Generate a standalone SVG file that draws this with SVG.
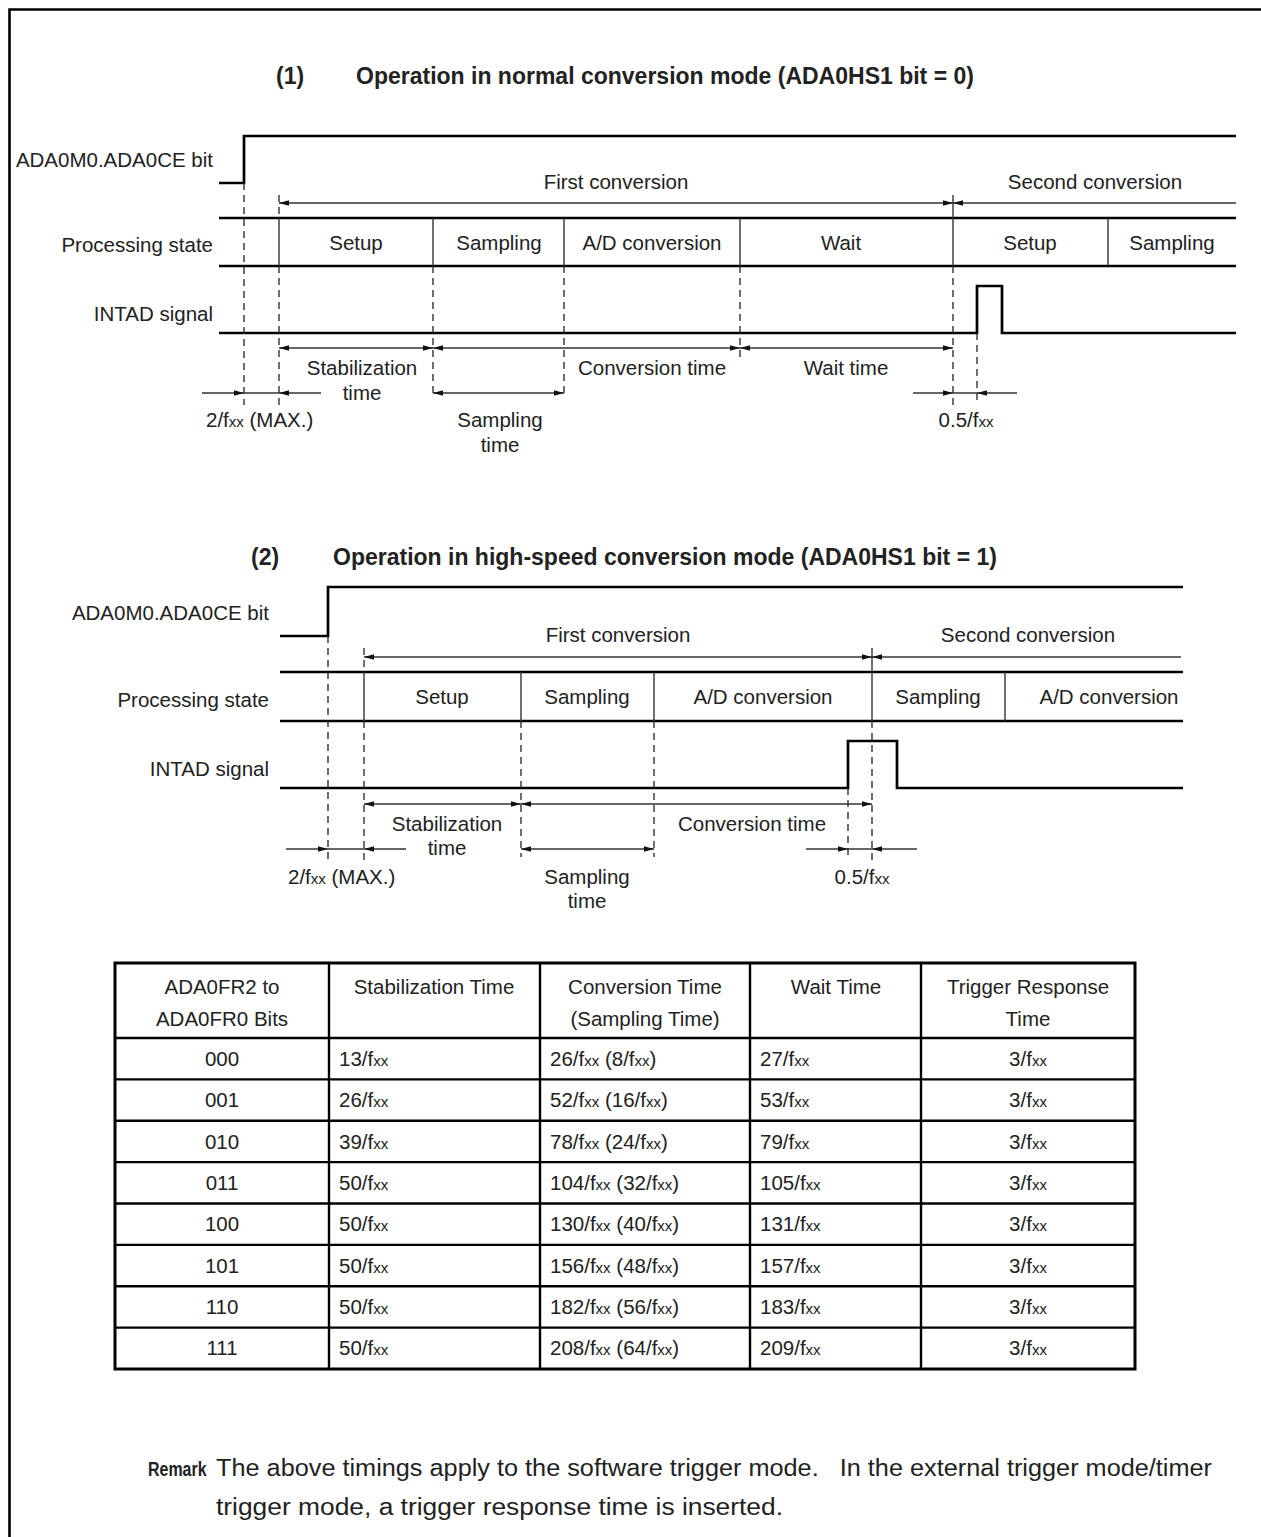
<svg xmlns="http://www.w3.org/2000/svg" xmlns:xlink="http://www.w3.org/1999/xlink" width="1261" height="1537" viewBox="0 0 1261 1537">
<style>
text{font-family:"Liberation Sans",Arial,sans-serif;font-size:20.5px;fill:#222}
.b{font-weight:bold}
.t{font-size:23px}
.m{text-anchor:middle}
.e{text-anchor:end}
.s{font-size:15px}
.r{font-size:23.5px}
.sig{fill:none;stroke:#000;stroke-width:2.7}
.box{stroke:#000;stroke-width:2.7}
.div{stroke:#333;stroke-width:1.4}
.dash{stroke:#222;stroke-width:1.3;stroke-dasharray:7 5}
.arr{stroke:#333;stroke-width:1.3}
.tb{fill:none;stroke:#000;stroke-width:3}
.tl{stroke:#000;stroke-width:2.4}
</style>
<defs>
<path id="ahR" d="M0,0 L-10,-2.7 L-10,2.7 Z" fill="#111"/>
<path id="ahL" d="M0,0 L10,-2.7 L10,2.7 Z" fill="#111"/>
</defs>
<rect x="0" y="0" width="1261" height="1537" fill="#fff"/>
<path d="M9.5,1537 V9.5 H1261" fill="none" stroke="#000" stroke-width="2.6"/>

<g id="title1"><text class="b t" x="276" y="84">(1)</text><text class="b t" x="356" y="84">Operation in normal conversion mode (ADA0HS1 bit = 0)</text></g>

<g id="s1-ce"><polyline class="sig" points="219,183 244,183 244,136 1236,136"/><text class="e" x="213" y="167">ADA0M0.ADA0CE bit</text></g>
<g id="s1-state">
<line class="box" x1="219" y1="218" x2="1236" y2="218"/><line class="box" x1="219" y1="266" x2="1236" y2="266"/>
<line class="div" x1="279" y1="218" x2="279" y2="266"/><line class="div" x1="433" y1="218" x2="433" y2="266"/><line class="div" x1="564" y1="218" x2="564" y2="266"/><line class="div" x1="740" y1="218" x2="740" y2="266"/><line class="div" x1="953" y1="218" x2="953" y2="266"/><line class="div" x1="1108" y1="218" x2="1108" y2="266"/>
<text class="e" x="213" y="252">Processing state</text>
<text class="m" x="356" y="250">Setup</text><text class="m" x="499" y="250">Sampling</text><text class="m" x="652" y="250">A/D conversion</text><text class="m" x="841" y="250">Wait</text><text class="m" x="1030" y="250">Setup</text><text class="m" x="1172" y="250">Sampling</text>
</g>
<g id="s1-intad"><polyline class="sig" points="219,333 977,333 977,286 1002,286 1002,333 1236,333"/><text class="e" x="213" y="321">INTAD signal</text></g>
<g id="s1-labels">
<text class="m" x="616" y="189">First conversion</text><text class="m" x="1095" y="189">Second conversion</text>
<text class="m" x="362" y="375">Stabilization</text><text class="m" x="362" y="400">time</text>
<text class="m" x="652" y="375">Conversion time</text><text class="m" x="846" y="375">Wait time</text>
<text x="206" y="427">2/f<tspan class="s">xx</tspan> (MAX.)</text>
<text class="m" x="500" y="427">Sampling</text><text class="m" x="500" y="452">time</text>
<text class="m" x="966" y="427">0.5/f<tspan class="s">xx</tspan></text>
</g>
<g id="s1-connectors">
<line class="dash" x1="244" y1="183" x2="244" y2="405"/>
<line class="dash" x1="279" y1="195" x2="279" y2="218"/><line class="dash" x1="279" y1="266" x2="279" y2="405"/>
<line class="dash" x1="433" y1="266" x2="433" y2="398"/><line class="dash" x1="564" y1="266" x2="564" y2="398"/>
<line class="dash" x1="740" y1="266" x2="740" y2="357"/>
<line class="div" x1="953" y1="195" x2="953" y2="218"/><line class="dash" x1="953" y1="266" x2="953" y2="405"/>
<line class="dash" x1="977" y1="333" x2="977" y2="405"/>
<line class="arr" x1="279" y1="203" x2="1236" y2="203"/>
<use xlink:href="#ahL" x="279" y="203"/><use xlink:href="#ahR" x="953" y="203"/><use xlink:href="#ahL" x="953" y="203"/>
<line class="arr" x1="279" y1="348" x2="953" y2="348"/>
<use xlink:href="#ahL" x="279" y="348"/><use xlink:href="#ahR" x="433" y="348"/><use xlink:href="#ahL" x="433" y="348"/><use xlink:href="#ahR" x="740" y="348"/><use xlink:href="#ahL" x="740" y="348"/><use xlink:href="#ahR" x="953" y="348"/>
<line class="arr" x1="202" y1="393" x2="321" y2="393"/><use xlink:href="#ahR" x="244" y="393"/><use xlink:href="#ahL" x="279" y="393"/>
<line class="arr" x1="433" y1="393" x2="564" y2="393"/><use xlink:href="#ahL" x="433" y="393"/><use xlink:href="#ahR" x="564" y="393"/>
<line class="arr" x1="913" y1="393" x2="1017" y2="393"/><use xlink:href="#ahR" x="953" y="393"/><use xlink:href="#ahL" x="977" y="393"/>
</g>

<g id="title2"><text class="b t" x="251" y="565">(2)</text><text class="b t" x="333" y="565">Operation in high-speed conversion mode (ADA0HS1 bit = 1)</text></g>

<g id="s2-ce"><polyline class="sig" points="280,636 328,636 328,587 1183,587"/><text class="e" x="269" y="620">ADA0M0.ADA0CE bit</text></g>
<g id="s2-state">
<line class="box" x1="280" y1="672" x2="1183" y2="672"/><line class="box" x1="280" y1="721" x2="1183" y2="721"/>
<line class="div" x1="364" y1="672" x2="364" y2="721"/><line class="div" x1="521" y1="672" x2="521" y2="721"/><line class="div" x1="654" y1="672" x2="654" y2="721"/><line class="div" x1="872" y1="672" x2="872" y2="721"/><line class="div" x1="1005" y1="672" x2="1005" y2="721"/>
<text class="e" x="269" y="707">Processing state</text>
<text class="m" x="442" y="704">Setup</text><text class="m" x="587" y="704">Sampling</text><text class="m" x="763" y="704">A/D conversion</text><text class="m" x="938" y="704">Sampling</text><text class="m" x="1109" y="704">A/D conversion</text>
</g>
<g id="s2-intad"><polyline class="sig" points="280,788 848,788 848,741 897,741 897,788 1183,788"/><text class="e" x="269" y="776">INTAD signal</text></g>
<g id="s2-labels">
<text class="m" x="618" y="642">First conversion</text><text class="m" x="1028" y="642">Second conversion</text>
<text class="m" x="447" y="831">Stabilization</text><text class="m" x="447" y="855">time</text>
<text class="m" x="752" y="831">Conversion time</text>
<text x="288" y="884">2/f<tspan class="s">xx</tspan> (MAX.)</text>
<text class="m" x="587" y="884">Sampling</text><text class="m" x="587" y="908">time</text>
<text class="m" x="862" y="884">0.5/f<tspan class="s">xx</tspan></text>
</g>
<g id="s2-connectors">
<line class="dash" x1="328" y1="636" x2="328" y2="860"/>
<line class="dash" x1="364" y1="648" x2="364" y2="672"/><line class="dash" x1="364" y1="721" x2="364" y2="863"/>
<line class="dash" x1="521" y1="721" x2="521" y2="857"/><line class="dash" x1="654" y1="721" x2="654" y2="857"/>
<line class="dash" x1="848" y1="788" x2="848" y2="860"/>
<line class="div" x1="872" y1="648" x2="872" y2="672"/><line class="dash" x1="872" y1="721" x2="872" y2="860"/>
<line class="arr" x1="364" y1="657" x2="1181" y2="657"/>
<use xlink:href="#ahL" x="364" y="657"/><use xlink:href="#ahR" x="872" y="657"/><use xlink:href="#ahL" x="872" y="657"/>
<line class="arr" x1="364" y1="804" x2="872" y2="804"/>
<use xlink:href="#ahL" x="364" y="804"/><use xlink:href="#ahR" x="521" y="804"/><use xlink:href="#ahL" x="521" y="804"/><use xlink:href="#ahR" x="872" y="804"/>
<line class="arr" x1="286" y1="849" x2="406" y2="849"/><use xlink:href="#ahR" x="328" y="849"/><use xlink:href="#ahL" x="364" y="849"/>
<line class="arr" x1="521" y1="849" x2="654" y2="849"/><use xlink:href="#ahL" x="521" y="849"/><use xlink:href="#ahR" x="654" y="849"/>
<line class="arr" x1="806" y1="849" x2="917" y2="849"/><use xlink:href="#ahR" x="848" y="849"/><use xlink:href="#ahL" x="872" y="849"/>
</g>

<g id="table">
<rect class="tb" x="115" y="963" width="1020" height="406"/>
<line class="tl" x1="329" y1="963" x2="329" y2="1369"/><line class="tl" x1="540" y1="963" x2="540" y2="1369"/><line class="tl" x1="750" y1="963" x2="750" y2="1369"/><line class="tl" x1="921" y1="963" x2="921" y2="1369"/>
<line class="tl" x1="115" y1="1038" x2="1135" y2="1038"/><line class="tl" x1="115" y1="1079.4" x2="1135" y2="1079.4"/><line class="tl" x1="115" y1="1120.75" x2="1135" y2="1120.75"/><line class="tl" x1="115" y1="1162.1" x2="1135" y2="1162.1"/><line class="tl" x1="115" y1="1203.5" x2="1135" y2="1203.5"/><line class="tl" x1="115" y1="1244.9" x2="1135" y2="1244.9"/><line class="tl" x1="115" y1="1286.25" x2="1135" y2="1286.25"/><line class="tl" x1="115" y1="1327.6" x2="1135" y2="1327.6"/>
<text class="m" x="222" y="994">ADA0FR2 to</text><text class="m" x="222" y="1026">ADA0FR0 Bits</text>
<text class="m" x="434" y="994">Stabilization Time</text>
<text class="m" x="645" y="994">Conversion Time</text><text class="m" x="645" y="1026">(Sampling Time)</text>
<text class="m" x="836" y="994">Wait Time</text>
<text class="m" x="1028" y="994">Trigger Response</text><text class="m" x="1028" y="1026">Time</text>
<text class="m" x="222" y="1066">000</text><text x="339" y="1066">13/f<tspan class="s">xx</tspan></text><text x="550" y="1066">26/f<tspan class="s">xx</tspan> (8/f<tspan class="s">xx</tspan>)</text><text x="760" y="1066">27/f<tspan class="s">xx</tspan></text><text class="m" x="1028" y="1066">3/f<tspan class="s">xx</tspan></text>
<text class="m" x="222" y="1107">001</text><text x="339" y="1107">26/f<tspan class="s">xx</tspan></text><text x="550" y="1107">52/f<tspan class="s">xx</tspan> (16/f<tspan class="s">xx</tspan>)</text><text x="760" y="1107">53/f<tspan class="s">xx</tspan></text><text class="m" x="1028" y="1107">3/f<tspan class="s">xx</tspan></text>
<text class="m" x="222" y="1149">010</text><text x="339" y="1149">39/f<tspan class="s">xx</tspan></text><text x="550" y="1149">78/f<tspan class="s">xx</tspan> (24/f<tspan class="s">xx</tspan>)</text><text x="760" y="1149">79/f<tspan class="s">xx</tspan></text><text class="m" x="1028" y="1149">3/f<tspan class="s">xx</tspan></text>
<text class="m" x="222" y="1190">011</text><text x="339" y="1190">50/f<tspan class="s">xx</tspan></text><text x="550" y="1190">104/f<tspan class="s">xx</tspan> (32/f<tspan class="s">xx</tspan>)</text><text x="760" y="1190">105/f<tspan class="s">xx</tspan></text><text class="m" x="1028" y="1190">3/f<tspan class="s">xx</tspan></text>
<text class="m" x="222" y="1231">100</text><text x="339" y="1231">50/f<tspan class="s">xx</tspan></text><text x="550" y="1231">130/f<tspan class="s">xx</tspan> (40/f<tspan class="s">xx</tspan>)</text><text x="760" y="1231">131/f<tspan class="s">xx</tspan></text><text class="m" x="1028" y="1231">3/f<tspan class="s">xx</tspan></text>
<text class="m" x="222" y="1273">101</text><text x="339" y="1273">50/f<tspan class="s">xx</tspan></text><text x="550" y="1273">156/f<tspan class="s">xx</tspan> (48/f<tspan class="s">xx</tspan>)</text><text x="760" y="1273">157/f<tspan class="s">xx</tspan></text><text class="m" x="1028" y="1273">3/f<tspan class="s">xx</tspan></text>
<text class="m" x="222" y="1314">110</text><text x="339" y="1314">50/f<tspan class="s">xx</tspan></text><text x="550" y="1314">182/f<tspan class="s">xx</tspan> (56/f<tspan class="s">xx</tspan>)</text><text x="760" y="1314">183/f<tspan class="s">xx</tspan></text><text class="m" x="1028" y="1314">3/f<tspan class="s">xx</tspan></text>
<text class="m" x="222" y="1355">111</text><text x="339" y="1355">50/f<tspan class="s">xx</tspan></text><text x="550" y="1355">208/f<tspan class="s">xx</tspan> (64/f<tspan class="s">xx</tspan>)</text><text x="760" y="1355">209/f<tspan class="s">xx</tspan></text><text class="m" x="1028" y="1355">3/f<tspan class="s">xx</tspan></text>
</g>

<g id="remark">
<text class="b" transform="translate(148,1476) scale(0.76,1)" style="font-size:21px">Remark</text>
<text class="r" x="216" y="1476" xml:space="preserve" textLength="996" lengthAdjust="spacingAndGlyphs">The above timings apply to the software trigger mode.   In the external trigger mode/timer</text>
<text class="r" x="216" y="1515" textLength="567" lengthAdjust="spacingAndGlyphs">trigger mode, a trigger response time is inserted.</text>
</g>
</svg>
